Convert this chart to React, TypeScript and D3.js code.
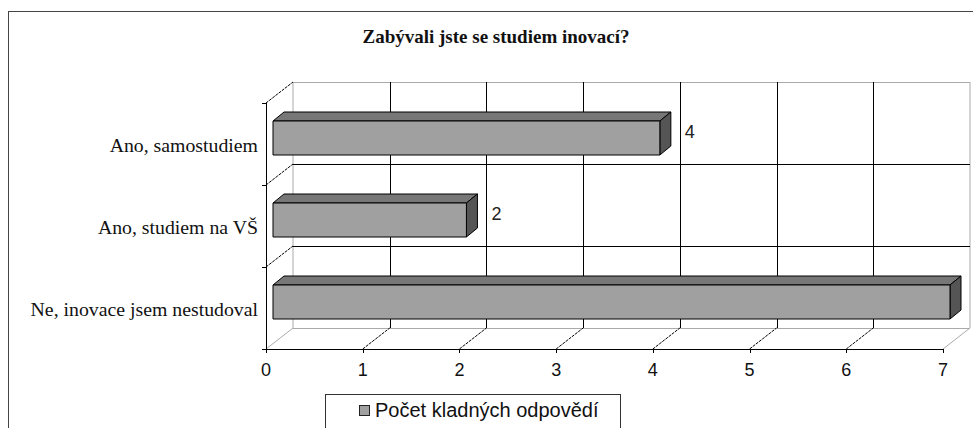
import React from "react";
import * as d3 from "d3";

const categories = ["Ano, samostudiem", "Ano, studiem na VŠ", "Ne, inovace jsem nestudoval"];
const values = [4, 2, 7];
const xTicks = [0, 1, 2, 3, 4, 5, 6, 7];
const title = "Zabývali jste se studiem inovací?";
const seriesName = "Počet kladných odpovědí";

const W = 973;
const H = 428;
// 3d depth of the plot box and of a bar
const DX = 27;
const DY = -21;
const barOff = { x: 7, y: -6 };
const barDepth = { x: 11, y: -9 };
const barH = 34;

export default function App() {
  const x = d3.scaleLinear().domain([0, 7]).range([266, 943]);
  const y = d3.scaleBand<string>().domain(categories).range([103, 349]).paddingInner(0).paddingOuter(0);
  const top = 103;
  const bottom = 349;
  const serif = "'Liberation Serif', 'Times New Roman', serif";
  const sans = "'Liberation Sans', Arial, sans-serif";
  const bounds = [top, ...categories.map((c) => (y(c) as number) + y.bandwidth())];

  return (
    <svg width={W} height={H} style={{ position: "absolute", left: 0, top: 0 }}>
      <rect x={0} y={0} width={W} height={H} fill="#fff" />
      <rect x={8.5} y={11.5} width={1000} height={500} fill="none" stroke="#444" strokeWidth={1} />
      <text x={496} y={43} textAnchor="middle" fontFamily={serif} fontWeight="bold" fontSize={19} fill="#111">
        {title}
      </text>

      {/* back wall frame */}
      <line x1={x(0) + DX} x2={x(0) + DX} y1={top + DY} y2={bottom + DY} stroke="#aaa" />
      <line x1={x(0) + DX} x2={x(7) + DX} y1={top + DY + 0.5} y2={top + DY + 0.5} stroke="#aaa" />
      <line x1={x(0) + DX} x2={x(7) + DX} y1={bottom + DY + 0.5} y2={bottom + DY + 0.5} stroke="#aaa" />
      <line x1={x(7) + DX} x2={x(7) + DX} y1={top + DY} y2={bottom + DY} stroke="#aaa" />
      <line x1={x(0)} y1={bottom} x2={x(0) + DX} y2={bottom + DY} stroke="#aaa" />
      <line x1={x(7)} y1={bottom} x2={x(7) + DX} y2={bottom + DY} stroke="#aaa" />

      {/* back wall grid */}
      {xTicks.slice(1, -1).map((t) => (
        <line key={"g" + t} x1={Math.round(x(t) + DX) + 0.5} x2={Math.round(x(t) + DX) + 0.5} y1={top + DY} y2={bottom + DY} stroke="#000" />
      ))}
      {bounds.slice(1, -1).map((b, i) => (
        <line key={"h" + i} x1={x(0) + DX} x2={x(7) + DX} y1={Math.round(b + DY) + 0.5} y2={Math.round(b + DY) + 0.5} stroke="#000" />
      ))}
      {/* floor diagonals */}
      {xTicks.slice(1, -1).map((t) => (
        <line key={"f" + t} x1={x(t)} y1={bottom} x2={x(t) + DX} y2={bottom + DY} stroke="#000" strokeDasharray="3,1" />
      ))}
      {/* left wall diagonals */}
      {bounds.slice(0, -1).map((b, i) => (
        <line key={"l" + i} x1={x(0)} y1={b} x2={x(0) + DX} y2={b + DY} stroke="#000" strokeDasharray="3,1" />
      ))}

      {/* bars */}
      {categories.map((c, i) => {
        const x0 = x(0) + barOff.x;
        const x1 = x(values[i]) + barOff.x;
        const y0 = (y(c) as number) + y.bandwidth() / 2 + barOff.y - barH / 2;
        const y1 = y0 + barH;
        const bx = barDepth.x;
        const by = barDepth.y;
        return (
          <g key={c} stroke="#000" strokeWidth={1} strokeLinejoin="round">
            <polygon points={`${x0},${y0} ${x0 + bx},${y0 + by} ${x1 + bx},${y0 + by} ${x1},${y0}`} fill="#777" />
            <polygon points={`${x1},${y0} ${x1 + bx},${y0 + by} ${x1 + bx},${y1 + by} ${x1},${y1}`} fill="#555" />
            <rect x={x0} y={y0} width={x1 - x0} height={barH} fill="#a0a0a0" />
            <text x={x1 + bx + 14} y={y0 + 17} stroke="none" fill="#222" fontFamily={sans} fontSize={18}>
              {values[i]}
            </text>
          </g>
        );
      })}

      {/* front axes */}
      <line x1={x(0) + 0.5} x2={x(0) + 0.5} y1={top} y2={bottom} stroke="#000" />
      <line x1={x(0)} x2={x(7)} y1={bottom + 0.5} y2={bottom + 0.5} stroke="#000" />
      {bounds.map((b, i) => (
        <line key={"yt" + i} x1={x(0) - 4} x2={x(0)} y1={Math.round(b) + 0.5} y2={Math.round(b) + 0.5} stroke="#000" />
      ))}
      {xTicks.map((t) => (
        <g key={"xt" + t}>
          <line x1={Math.round(x(t)) + 0.5} x2={Math.round(x(t)) + 0.5} y1={bottom} y2={bottom + 4} stroke="#000" />
          <text x={x(t)} y={376} textAnchor="middle" fontFamily={sans} fontSize={18} fill="#111">
            {t}
          </text>
        </g>
      ))}
      {categories.map((c) => (
        <text key={"c" + c} x={258} y={(y(c) as number) + y.bandwidth() / 2 + 7.5} textAnchor="end" fontFamily={serif} fontSize={19.8} fill="#111">
          {c}
        </text>
      ))}

      {/* legend */}
      <rect x={325.5} y={394.5} width={295} height={60} fill="#fff" stroke="#333" />
      <rect x={359.5} y={405.5} width={10} height={10} fill="#a0a0a0" stroke="#222" />
      <text x={375} y={417} fontFamily={sans} fontSize={20} fill="#111">
        {seriesName}
      </text>
    </svg>
  );
}
